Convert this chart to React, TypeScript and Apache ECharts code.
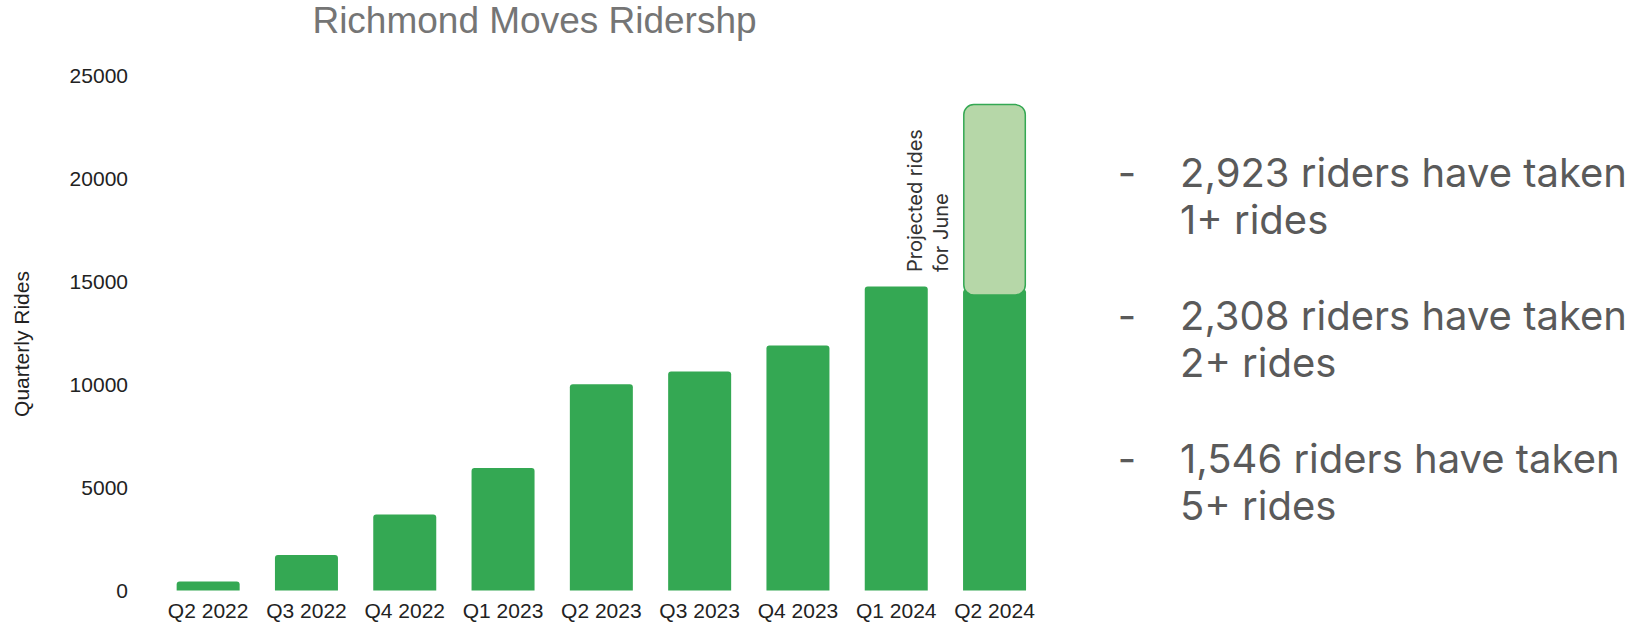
import React, { useEffect, useRef } from "react";
import * as echarts from "echarts";

const categories = [
  "Q2 2022",
  "Q3 2022",
  "Q4 2022",
  "Q1 2023",
  "Q2 2023",
  "Q3 2023",
  "Q4 2023",
  "Q1 2024",
  "Q2 2024",
];
const actualRides = [440, 1720, 3690, 5940, 10000, 10620, 11880, 14740, 14600];
const projectedBase: (number | string)[] = ["-", "-", "-", "-", "-", "-", "-", "-", 14300];
const projectedRides: (number | string)[] = ["-", "-", "-", "-", "-", "-", "-", "-", 9300];
const yMin = 0;
const yMax = 25000;
const yInterval = 5000;

const titleText = "Richmond Moves Ridershp";
const yAxisName = "Quarterly Rides";
const annotationText = "Projected rides\nfor June";
const bulletTexts = [
  "2,923 riders have taken\n1+ rides",
  "2,308 riders have taken\n2+ rides",
  "1,546 riders have taken\n5+ rides",
];

export default function App() {
  const ref = useRef<HTMLDivElement>(null);

  useEffect(() => {
    if (!ref.current) return;
    const chart = echarts.init(ref.current, undefined, { renderer: "svg" });

    const bulletGraphics: any[] = [];
    bulletTexts.forEach((t, i) => {
      const y0 = 172 + i * 143.3;
      bulletGraphics.push({
        type: "text",
        x: 1127,
        y: y0,
        style: {
          text: "-",
          font: '400 40px Inter, "Noto Sans", sans-serif',
          fill: "#5a5a5a",
          textAlign: "center",
          textVerticalAlign: "middle",
        },
      });
      bulletGraphics.push({
        type: "text",
        x: 1180,
        y: y0 + 23.5,
        style: {
          text: t,
          font: '400 40px Inter, "Noto Sans", sans-serif',
          lineHeight: 47,
          fill: "#5a5a5a",
          textAlign: "left",
          textVerticalAlign: "middle",
        },
      });
    });

    chart.setOption({
      animation: false,
      backgroundColor: "#ffffff",
      grid: {
        left: 159,
        right: 604.3,
        top: 75,
        bottom: 32.5,
        containLabel: false,
      },
      xAxis: {
        type: "category",
        data: categories,
        axisLine: { show: false },
        axisTick: { show: false },
        axisLabel: {
          color: "#222222",
          fontFamily: '"Liberation Sans", Arial, sans-serif',
          fontSize: 21,
          margin: 9,
          interval: 0,
        },
      },
      yAxis: {
        type: "value",
        min: yMin,
        max: yMax,
        interval: yInterval,
        axisLine: { show: false },
        axisTick: { show: false },
        splitLine: { show: false },
        axisLabel: {
          color: "#222222",
          fontFamily: '"Liberation Sans", Arial, sans-serif',
          fontSize: 21,
          margin: 31,
          formatter: (v: number) => String(v),
        },
      },
      series: [
        {
          name: "Actual",
          type: "bar",
          data: actualRides,
          barWidth: 63,
          barGap: "-100%",
          itemStyle: {
            color: "#34a853",
            borderRadius: [3, 3, 0, 0],
          },
        },
        {
          name: "Base",
          type: "bar",
          stack: "projection",
          data: projectedBase,
          barWidth: 63,
          barGap: "-100%",
          silent: true,
          itemStyle: { color: "rgba(0,0,0,0)" },
        },
        {
          name: "Projected",
          type: "bar",
          stack: "projection",
          data: projectedRides,
          barWidth: 63,
          barGap: "-100%",
          itemStyle: {
            color: "#b6d7a8",
            borderColor: "#34a853",
            borderWidth: 1.5,
            borderRadius: 10,
          },
        },
      ],
      graphic: [
        {
          type: "text",
          x: 534.5,
          y: 20.5,
          style: {
            text: titleText,
            font: '400 37px "Liberation Sans", Arial, sans-serif',
            fill: "#757575",
            textAlign: "center",
            textVerticalAlign: "middle",
          },
        },
        {
          type: "text",
          x: 21,
          y: 344,
          rotation: Math.PI / 2,
          style: {
            text: yAxisName,
            font: '400 21px "Liberation Sans", Arial, sans-serif',
            fill: "#222222",
            textAlign: "center",
            textVerticalAlign: "middle",
          },
        },
        {
          type: "text",
          x: 928,
          y: 272,
          rotation: Math.PI / 2,
          style: {
            text: annotationText,
            font: '400 20px Inter, "Noto Sans", sans-serif',
            lineHeight: 25.5,
            fill: "#333333",
            textAlign: "left",
            textVerticalAlign: "middle",
          },
        },
        ...bulletGraphics,
      ],
    });

    return () => {
      chart.dispose();
    };
  }, []);

  return (
    <div
      ref={ref}
      style={{ position: "absolute", left: 0, top: 0, width: 1648, height: 623 }}
    />
  );
}
